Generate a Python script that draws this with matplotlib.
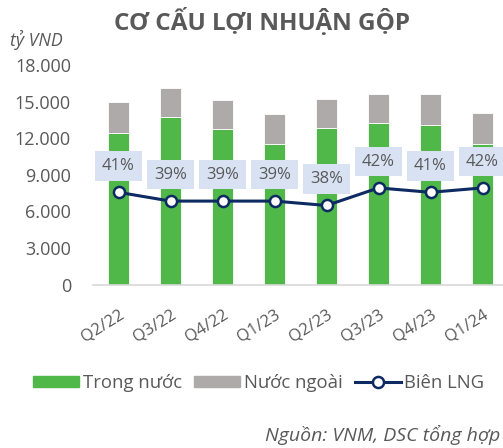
import matplotlib.pyplot as plt
from matplotlib.patches import Patch
from matplotlib.lines import Line2D

plt.rcParams['font.family'] = ['Open Sans', 'DejaVu Sans']

# Dữ liệu (tỷ VND)
quy = ['Q2/22', 'Q3/22', 'Q4/22', 'Q1/23', 'Q2/23', 'Q3/23', 'Q4/23', 'Q1/24']
trong_nuoc = [12450, 13760, 12780, 11500, 12800, 13270, 13080, 11550]
tong = [14940, 16090, 15130, 13950, 15210, 15620, 15600, 14090]
nuoc_ngoai = [t - d for t, d in zip(tong, trong_nuoc)]
bien_lng = [41, 39, 39, 39, 38, 42, 41, 42]
yticks = [0, 3000, 6000, 9000, 12000, 15000, 18000]

xanh = '#50B848'
xam = '#AEAAAA'
navy = '#0E2A62'
chu = '#595959'

fig = plt.figure(figsize=(5.03, 4.48), dpi=100)
ax = fig.add_axes([92.5 / 503, 163.5 / 448, 416 / 503, 219.5 / 448])
x = range(len(quy))

ax.bar(x, trong_nuoc, width=0.4, color=xanh, edgecolor='white', linewidth=0.6)
ax.bar(x, nuoc_ngoai, width=0.4, bottom=trong_nuoc, color=xam,
       edgecolor='white', linewidth=0.6)
ax.set_xlim(-0.5, len(quy) - 0.5)
ax.set_ylim(0, 18000)
ax.set_yticks(yticks)
ax.set_yticklabels([f'{v:,}'.replace(',', '.') for v in yticks])
ax.tick_params(axis='y', length=0, labelsize=13, labelcolor=chu, pad=15.5)
ax.set_xticks(list(x))
ax.set_xticklabels(quy, rotation=32, ha='right', rotation_mode='anchor')
ax.tick_params(axis='x', length=0, labelsize=12, labelcolor=chu, pad=16)
for s in ['top', 'right', 'left']:
    ax.spines[s].set_visible(False)
ax.spines['bottom'].set_color('#D9D9D9')
ax.spines['bottom'].set_linewidth(1.2)

ax2 = ax.twinx()
ax2.set_ylim(20, 70)
ax2.axis('off')
ax2.plot(x, bien_lng, color=navy, linewidth=2.2, marker='o', markersize=8,
         markerfacecolor='white', markeredgecolor=navy, markeredgewidth=1.8)
for i, v in enumerate(bien_lng):
    ax2.annotate(f'{v}%', (i, v), xytext=(0, 19), textcoords='offset points',
                 ha='center', va='center', fontsize=12, color=chu,
                 bbox=dict(boxstyle='square,pad=0.4', fc='#D9E2F3', ec='none'))

fig.text(262 / 503, 1 - 22 / 448, 'CƠ CẤU LỢI NHUẬN GỘP', ha='center', va='center',
         fontsize=17.5, fontweight='bold', color=chu)
fig.text(10 / 503, 1 - 40 / 448, 'tỷ VND', ha='left', va='center',
         fontsize=12.8, style='italic', color=chu)
fig.text(500 / 503, 1 - 435 / 448, 'Nguồn: VNM, DSC tổng hợp', ha='right', va='center',
         fontsize=14, style='italic', color=chu)

handles = [Patch(color=xanh), Patch(color=xam),
           Line2D([], [], color=navy, linewidth=2.2, marker='o', markersize=8,
                  markerfacecolor='white', markeredgecolor=navy, markeredgewidth=1.8)]
fig.legend(handles, ['Trong nước', 'Nước ngoài', 'Biên LNG'], loc='center left',
           bbox_to_anchor=(33 / 503, 1 - 383 / 448), ncol=3, frameon=False,
           fontsize=13.3, labelcolor=chu, handlelength=2.5, handleheight=0.6,
           handletextpad=0.2, columnspacing=0.65, borderpad=0, borderaxespad=0)

fig.savefig('out.png', dpi=100)
